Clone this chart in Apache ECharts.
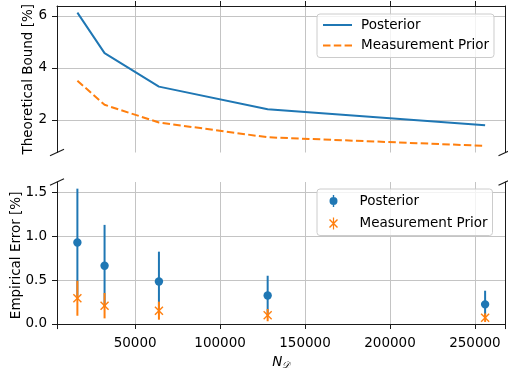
<!DOCTYPE html>
<html>
<head>
<meta charset="utf-8">
<script src="https://cdn.jsdelivr.net/npm/echarts@6/dist/echarts.min.js"></script>
<style>
  html, body { margin: 0; padding: 0; background: #fff; }
  #chart { width: 508px; height: 376px; }
</style>
</head>
<body>
<div id="chart"></div>
<script>
// data
const nValues = [16000, 32000, 64000, 128000, 256000];
const boundPosterior = [6.13, 4.57, 3.28, 2.41, 1.79];
const boundPrior = [3.51, 2.58, 1.90, 1.33, 1.00];
const errPosterior = [0.93, 0.665, 0.486, 0.326, 0.224];
const errPosteriorStd = [0.616, 0.467, 0.34, 0.225, 0.156];
const errPrior = [0.294, 0.209, 0.152, 0.101, 0.072];
const errPriorStd = [0.2, 0.145, 0.103, 0.07, 0.049];
const xTicks = [50000, 100000, 150000, 200000, 250000];
const boundTicks = [2, 4, 6];
const errorTicks = [0, 0.5, 1.0, 1.5];

const BLUE = '#1f77b4';
const ORANGE = '#ff7f0e';
const FONT = 'DejaVu Sans';
const FS = 13.5;
const GRID_COLOR = '#c4c4c4';
const SPINE = '#1a1a1a';

// panel geometry (px)
const L = 57, R = 2.5;
const top1 = 6, bot1 = 152.5;
const top2 = 182, bot2 = 328.7;

const chart = echarts.init(document.getElementById('chart'), null, { renderer: 'canvas' });

function errorBar(marker) {
    return function (params, api) {
        const x = api.value(0), y = api.value(1), e = api.value(2);
        const hi = api.coord([x, y + e]);
        const lo = api.coord([x, y - e]);
        const c = api.coord([x, y]);
        const color = api.visual('color');
        const children = [{
            type: 'line',
            shape: { x1: c[0], y1: hi[1], x2: c[0], y2: lo[1] },
            style: { stroke: color, lineWidth: 2 }
        }];
        if (marker === 'circle') {
            children.push({ type: 'circle', shape: { cx: c[0], cy: c[1], r: 4.2 }, style: { fill: color } });
        } else {
            const s = 4;
            children.push({ type: 'line', shape: { x1: c[0] - s, y1: c[1] - s, x2: c[0] + s, y2: c[1] + s }, style: { stroke: color, lineWidth: 1.4 } });
            children.push({ type: 'line', shape: { x1: c[0] + s, y1: c[1] - s, x2: c[0] - s, y2: c[1] + s }, style: { stroke: color, lineWidth: 1.4 } });
        }
        return { type: 'group', children: children };
    };
}

const tickLabel = { fontFamily: FONT, fontSize: FS, color: '#000' };
const legendBox = {
    orient: 'vertical',
    left: 317,
    backgroundColor: 'rgba(255,255,255,0.8)',
    borderColor: '#cccccc',
    borderWidth: 1,
    borderRadius: 3,
    selectedMode: false,
    formatter: name => name.trim(),
    textStyle: { fontFamily: FONT, fontSize: FS, color: '#000' }
};

// errorbar legend glyphs
const ICON_CIRCLE = 'path://M3.3,0L4.7,0L4.7,12L3.3,12Z M0,6A4,4 0 1,1 8,6A4,4 0 1,1 0,6Z';
const ICON_X = 'path://M3.4,0L4.6,0L4.6,12L3.4,12Z M0.5,1.5L8.5,9.5L7.5,10.5L-0.5,2.5Z M7.5,1.5L8.5,2.5L0.5,10.5L-0.5,9.5Z';

const xBase = {
    type: 'value',
    min: 4000,
    max: 268000,
    axisLine: { show: true, lineStyle: { color: SPINE, width: 1 } },
    axisTick: { show: true, length: 5, customValues: xTicks, lineStyle: { color: SPINE } },
    splitLine: { show: true, lineStyle: { color: GRID_COLOR, width: 1 } }
};

const option = {
    animation: false,
    grid: [
        { left: L, right: R, top: top1, height: bot1 - top1, containLabel: false, outerBoundsMode: 'none' },
        { left: L, right: R, top: top2, height: bot2 - top2, containLabel: false, outerBoundsMode: 'none' }
    ],
    xAxis: [
        Object.assign({}, xBase, {
            gridIndex: 0,
            position: 'top',
            axisLabel: { show: false, customValues: xTicks }
        }),
        Object.assign({}, xBase, {
            gridIndex: 1,
            position: 'bottom',
            axisLabel: Object.assign({ customValues: xTicks, margin: 8, formatter: v => String(v) }, tickLabel),
            name: '{n|N}{d|𝒟}',
            nameLocation: 'middle',
            nameGap: 26,
            nameMoveOverlap: false,
            nameTextStyle: {
                rich: {
                    n: { fontFamily: FONT, fontSize: FS, fontStyle: 'italic', color: '#000' },
                    d: { fontFamily: FONT, fontSize: 9.5, fontStyle: 'italic', color: '#000', verticalAlign: 'bottom', padding: [6, 0, 0, 0] }
                }
            }
        })
    ],
    yAxis: [
        {
            type: 'value', gridIndex: 0, min: 0.744, max: 6.385,
            axisLine: { show: true, lineStyle: { color: SPINE, width: 1 } },
            axisTick: { show: true, length: 5, customValues: boundTicks, lineStyle: { color: SPINE } },
            axisLabel: Object.assign({ customValues: boundTicks, margin: 10 }, tickLabel),
            splitLine: { show: true, lineStyle: { color: GRID_COLOR, width: 1 } },
            name: 'Theoretical Bound [%]',
            nameLocation: 'middle',
            nameGap: 22,
            nameMoveOverlap: false,
            nameTextStyle: { fontFamily: FONT, fontSize: FS, color: '#000' }
        },
        {
            type: 'value', gridIndex: 0, min: 0.744, max: 6.385, position: 'right',
            axisLine: { show: true, lineStyle: { color: SPINE, width: 1 } },
            axisTick: { show: false }, axisLabel: { show: false }, splitLine: { show: false }
        },
        {
            type: 'value', gridIndex: 1, min: -0.054, max: 1.622,
            axisLine: { show: true, lineStyle: { color: SPINE, width: 1 } },
            axisTick: { show: true, length: 5, customValues: errorTicks, lineStyle: { color: SPINE } },
            axisLabel: Object.assign({ customValues: errorTicks, margin: 10, formatter: v => v.toFixed(1) }, tickLabel),
            splitLine: { show: true, lineStyle: { color: GRID_COLOR, width: 1 } },
            name: 'Empirical Error [%]',
            nameLocation: 'middle',
            nameGap: 34,
            nameMoveOverlap: false,
            nameTextStyle: { fontFamily: FONT, fontSize: FS, color: '#000' }
        },
        {
            type: 'value', gridIndex: 1, min: -0.054, max: 1.622, position: 'right',
            axisLine: { show: true, lineStyle: { color: SPINE, width: 1 } },
            axisTick: { show: false }, axisLabel: { show: false }, splitLine: { show: false }
        }
    ],
    legend: [
        Object.assign({}, legendBox, {
            top: 14,
            padding: [4, 5, 5, 5],
            itemWidth: 29,
            itemHeight: 14,
            itemGap: 6.5,
            itemStyle: { opacity: 0 },
            textStyle: Object.assign({}, legendBox.textStyle, { padding: [0, 0, 0, 4] }),
            data: ['Posterior', 'Measurement Prior']
        }),
        Object.assign({}, legendBox, {
            top: 189,
            padding: [5, 5, 5, 12],
            itemWidth: 12,
            itemHeight: 12,
            itemGap: 8.5,
            textStyle: Object.assign({}, legendBox.textStyle, { padding: [0, 0, 0, 15] }),
            data: [
                { name: 'Posterior ', icon: ICON_CIRCLE },
                { name: 'Measurement Prior ', icon: ICON_X }
            ]
        })
    ],
    series: [
        {
            name: 'Posterior', type: 'line', xAxisIndex: 0, yAxisIndex: 0,
            data: nValues.map((x, i) => [x, boundPosterior[i]]),
            symbol: 'none', color: BLUE,
            lineStyle: { color: BLUE, width: 2 }
        },
        {
            name: 'Measurement Prior', type: 'line', xAxisIndex: 0, yAxisIndex: 0,
            data: nValues.map((x, i) => [x, boundPrior[i]]),
            symbol: 'none', color: ORANGE,
            lineStyle: { color: ORANGE, width: 2, type: [7.5, 3.3] }
        },
        {
            name: 'Posterior ', type: 'custom', xAxisIndex: 1, yAxisIndex: 2,
            itemStyle: { color: BLUE },
            encode: { x: 0, y: 1 },
            data: nValues.map((x, i) => [x, errPosterior[i], errPosteriorStd[i]]),
            renderItem: errorBar('circle')
        },
        {
            name: 'Measurement Prior ', type: 'custom', xAxisIndex: 1, yAxisIndex: 2,
            itemStyle: { color: ORANGE },
            encode: { x: 0, y: 1 },
            data: nValues.map((x, i) => [x, errPrior[i], errPriorStd[i]]),
            renderItem: errorBar('x')
        }
    ],
    graphic: (function () {
        // broken-axis diagonal marks at the panel corners
        const xr = 508 - R;
        const pts = [[L, bot1], [xr, bot1], [L, top2], [xr, top2]];
        return pts.map(p => ({
            type: 'line',
            shape: { x1: p[0] - 7, y1: p[1] + 3.3, x2: p[0] + 7, y2: p[1] - 3.3 },
            style: { stroke: SPINE, lineWidth: 1.1 },
            z: 100
        }));
    })()
};

chart.setOption(option);
</script>
</body>
</html>
